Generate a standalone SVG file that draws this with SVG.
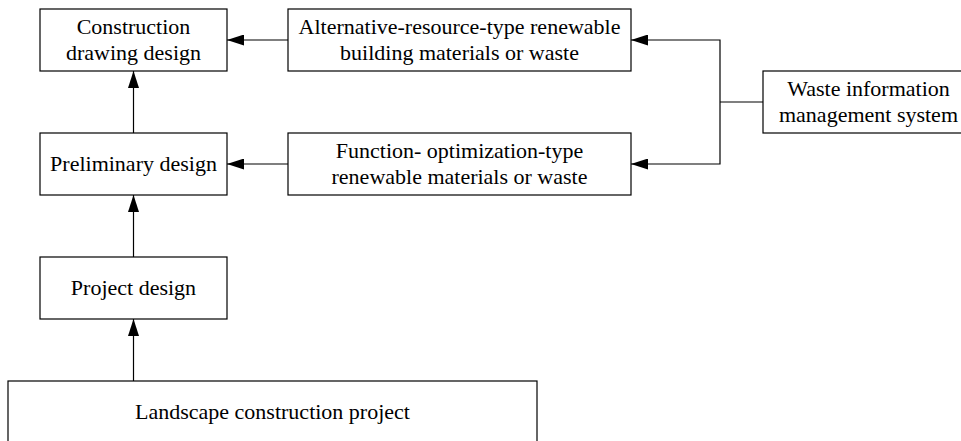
<svg xmlns="http://www.w3.org/2000/svg" width="961" height="441" viewBox="0 0 961 441">
<style>
.box{fill:#fff;stroke:#000;stroke-width:1.2}
.t{font-family:"Liberation Serif","Times New Roman",serif;font-size:22px;fill:#000;text-anchor:middle}
.c{fill:none;stroke:#000;stroke-width:1.2}
</style>
<defs>
<marker id="ah" markerUnits="userSpaceOnUse" markerWidth="17" markerHeight="11" refX="17" refY="5.5" orient="auto">
<path d="M0,0 L17,5.5 L0,11 z" fill="#000"/>
</marker>
</defs>
<rect width="961" height="441" fill="#fff"/>
<g id="connectors">
<line class="c" x1="288" y1="40" x2="227" y2="40" marker-end="url(#ah)"/>
<line class="c" x1="288" y1="164" x2="227" y2="164" marker-end="url(#ah)"/>
<polyline class="c" points="720,102 720,40 631,40" marker-end="url(#ah)"/>
<polyline class="c" points="720,102 720,164 631,164" marker-end="url(#ah)"/>
<line class="c" x1="720" y1="102" x2="763" y2="102"/>
<line class="c" x1="133.5" y1="133" x2="133.5" y2="71" marker-end="url(#ah)"/>
<line class="c" x1="133.5" y1="257" x2="133.5" y2="195" marker-end="url(#ah)"/>
<line class="c" x1="133.5" y1="381" x2="133.5" y2="319" marker-end="url(#ah)"/>
</g>
<g id="construction-drawing-design">
<rect class="box" x="40" y="9" width="187" height="62"/>
<text class="t" x="133.5" y="34">Construction</text>
<text class="t" x="133.5" y="60">drawing design</text>
</g>
<g id="alternative-resource">
<rect class="box" x="288" y="9" width="343" height="62"/>
<text class="t" x="459.5" y="34">Alternative-resource-type renewable</text>
<text class="t" x="459.5" y="60">building materials or waste</text>
</g>
<g id="preliminary-design">
<rect class="box" x="40" y="133" width="187" height="62"/>
<text class="t" x="133.5" y="171">Preliminary design</text>
</g>
<g id="function-optimization">
<rect class="box" x="288" y="133" width="343" height="62"/>
<text class="t" x="459.5" y="158">Function- optimization-type</text>
<text class="t" x="459.5" y="184">renewable materials or waste</text>
</g>
<g id="waste-information">
<rect class="box" x="763" y="71" width="211" height="62"/>
<text class="t" x="868.5" y="96">Waste information</text>
<text class="t" x="868.5" y="122">management system</text>
</g>
<g id="project-design">
<rect class="box" x="40" y="257" width="187" height="62"/>
<text class="t" x="133.5" y="295">Project design</text>
</g>
<g id="landscape-construction-project">
<rect class="box" x="8" y="381" width="529" height="62"/>
<text class="t" x="272.5" y="419">Landscape construction project</text>
</g>
</svg>
